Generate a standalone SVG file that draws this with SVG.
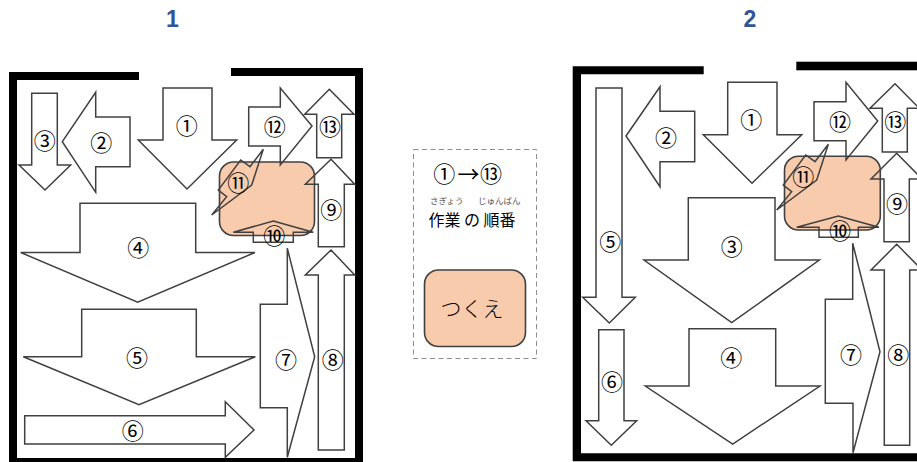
<svg xmlns="http://www.w3.org/2000/svg" width="917" height="462" viewBox="0 0 917 462">
<style>
.wall{fill:#000;stroke:none}
.table{fill:#f8cbad;stroke:#404040;stroke-width:1.6}
.arrow{fill:none;stroke:#404040;stroke-width:1.5;stroke-linejoin:miter}
text{font-family:"Noto Sans CJK JP","Noto Sans",sans-serif;text-anchor:middle;fill:#000}
.n{font-size:22px;dominant-baseline:central;font-weight:400;transform:translateY(-1px)}
.title{font-family:"Liberation Sans",Arial,sans-serif;font-size:23px;font-weight:bold;fill:#2f5597}
.ruby{font-size:8.5px;fill:#555}
</style>
<rect width="917" height="462" fill="#fff"/>
<text id="title1" class="title" x="172.5" y="27">1</text>
<text id="title2" class="title" x="750" y="27">2</text>

<g id="room1">
<path class="wall" d="M9 72H139V80H17V458H355V76H231V68H363V462H9Z"/>
<rect class="table" x="219.5" y="162" width="95" height="73.5" rx="14"/>
<g id="r1-a1"><polygon class="arrow" points="163,88 212,88 212,140 236.7,140 187,189 138.3,140 163,140"/><text class="n" x="186.7" y="125">①</text></g>
<g id="r1-a2"><polygon class="arrow" points="62.3,141.7 95.7,92.3 95.7,117 130,117 130,166.7 95.7,166.7 95.7,192.3"/><text class="n" x="101.3" y="142">②</text></g>
<g id="r1-a3"><polygon class="arrow" points="31.7,93.3 57.3,93.3 57.3,165 70.7,165 45,190 19,165 31.7,165"/><text class="n" x="44.7" y="140.3">③</text></g>
<g id="r1-a4"><polygon class="arrow" points="80,203.3 195.7,203.3 195.7,252.5 255,252.5 137.7,302.3 20.7,252.5 80,252.5"/><text class="n" x="138.3" y="246.7">④</text></g>
<g id="r1-a5"><polygon class="arrow" points="81.7,309.3 196.3,309.3 196.3,356.7 255.3,356.7 139,404.7 23.3,356.7 81.7,356.7"/><text class="n" x="137" y="357.3">⑤</text></g>
<g id="r1-a6"><polygon class="arrow" points="24.7,415.7 225.3,415.7 225.3,401.7 254,430 225.3,457.3 225.3,444 24.7,444"/><text class="n" x="132.7" y="430">⑥</text></g>
<g id="r1-a7"><polygon class="arrow" points="260.3,304.3 287.3,304.3 287.3,248.3 314.7,356.7 287.3,457.3 287.3,407.7 260.3,407.7"/><text class="n" x="286" y="358.7">⑦</text></g>
<g id="r1-a8"><polygon class="arrow" points="331,250 354.7,275 344.3,275 344.3,450 318.3,450 318.3,275 305.3,275"/><text class="n" x="332.7" y="358.7">⑧</text></g>
<g id="r1-a9"><polygon class="arrow" points="331,159.3 354.7,184.3 344.3,184.3 344.3,246.7 318.3,246.7 318.3,184.3 305.3,184.3"/><text class="n" x="331.3" y="208.7">⑨</text></g>
<g id="r1-a10"><polygon class="arrow" points="273.3,221 313.3,232.3 293.3,232.3 293.3,242.3 253.3,242.3 253.3,232.3 233.3,232.3"/><text class="n" x="274.3" y="234.7">⑩</text></g>
<g id="r1-a11"><polygon class="arrow" points="263.3,149.3 251.7,185 211.7,215 226.7,196.7 218.3,190 240.7,160 250,166.7"/><text class="n" x="238.3" y="182">⑪</text></g>
<g id="r1-a12"><polygon class="arrow" points="248.7,107 280.3,107 280.3,88 312,126 280.3,165 280.3,146 248.7,146"/><text class="n" x="274.7" y="126">⑫</text></g>
<g id="r1-a13"><polygon class="arrow" points="329.3,89.3 354,114.3 341.7,114.3 341.7,157.7 316.7,157.7 316.7,114.3 304.7,114.3"/><text class="n" x="330" y="126">⑬</text></g>
</g>

<g id="legend">
<rect x="413.5" y="149.5" width="123" height="209" fill="#fff" stroke="#8c8c8c" stroke-width="1" stroke-dasharray="5 3.5"/>
<text class="n" x="444.3" y="172.7">①</text>
<text class="n" x="468.5" y="172.7">→</text>
<text class="n" x="491" y="172.7">⑬</text>
<text class="ruby" x="446.7" y="204">さぎょう</text>
<text class="ruby" x="499.3" y="204">じゅんばん</text>
<text x="472" y="225.5" style="font-size:16px" xml:space="preserve">作業 の 順番</text>
<rect class="table" x="424.5" y="270" width="101" height="76.5" rx="14"/>
<text x="472" y="316" style="font-size:21px;font-weight:300">つくえ</text>
</g>

<g id="room2">
<path class="wall" d="M572.7 66.3H703.7V74.3H581V453.3H917V461.3H572.7Z"/>
<rect class="wall" x="796.3" y="61.7" width="120.7" height="8.6"/>
<rect class="table" x="784.5" y="156.3" width="95.8" height="73.7" rx="14"/>
<g id="r2-a1"><polygon class="arrow" points="727.7,82.3 777,82.3 777,134.7 801.7,134.7 752,183.3 703.3,134.7 727.7,134.7"/><text class="n" x="751.3" y="119.3">①</text></g>
<g id="r2-a2"><polygon class="arrow" points="626,136 660,86.7 660,111.3 694.7,111.3 694.7,161.7 660,161.7 660,186.7"/><text class="n" x="666" y="136.7">②</text></g>
<g id="r2-a3"><polygon class="arrow" points="688.3,197.7 775,197.7 775,260 819.3,260 731.7,322.7 644,260 688.3,260"/><text class="n" x="731.7" y="245.7">③</text></g>
<g id="r2-a4"><polygon class="arrow" points="689,328.7 775.7,328.7 775.7,386 820,386 732.7,444 645.3,386 689,386"/><text class="n" x="731.3" y="357">④</text></g>
<g id="r2-a5"><polygon class="arrow" points="596,88 622,88 622,297.3 635.3,297.3 609.3,323 582.7,297.3 596,297.3"/><text class="n" x="610.3" y="241">⑤</text></g>
<g id="r2-a6"><polygon class="arrow" points="598.7,329.7 624,329.7 624,420.7 636.7,420.7 611.3,445.3 586,420.7 598.7,420.7"/><text class="n" x="612" y="381.3">⑥</text></g>
<g id="r2-a7"><polygon class="arrow" points="825.3,299.3 852.7,299.3 852.7,243.3 880,351.7 853,452.7 853,403.3 825.3,403.3"/><text class="n" x="851" y="354.3">⑦</text></g>
<g id="r2-a8"><polygon class="arrow" points="896.7,244.3 922,270 909.7,270 909.7,445.3 884.3,445.3 884.3,270 871,270"/><text class="n" x="898.3" y="354.3">⑧</text></g>
<g id="r2-a9"><polygon class="arrow" points="896.7,153.3 922,179 909.3,179 909.3,241.7 884,241.7 884,179 871,179"/><text class="n" x="897" y="203.3">⑨</text></g>
<g id="r2-a10"><polygon class="arrow" points="838.3,216 879,227.3 858.3,227.3 858.3,237.3 819,237.3 819,227.3 796.7,227.3"/><text class="n" x="840" y="229.7">⑩</text></g>
<g id="r2-a11"><polygon class="arrow" points="828.3,144.3 816.7,180 776.7,210 791.7,191.7 783.3,185 805.7,155 815,161.7"/><text class="n" x="803.3" y="176.3">⑪</text></g>
<g id="r2-a12"><polygon class="arrow" points="814,101.7 846,101.7 846,82.3 877.7,121 846,160 846,140.7 814,140.7"/><text class="n" x="840" y="121">⑫</text></g>
<g id="r2-a13"><polygon class="arrow" points="895,83.7 919.3,108.3 907.3,108.3 907.3,152 882.3,152 882.3,108.3 870,108.3"/><text class="n" x="895.3" y="121">⑬</text></g>
</g>
<g id="connectors"/>
</svg>
